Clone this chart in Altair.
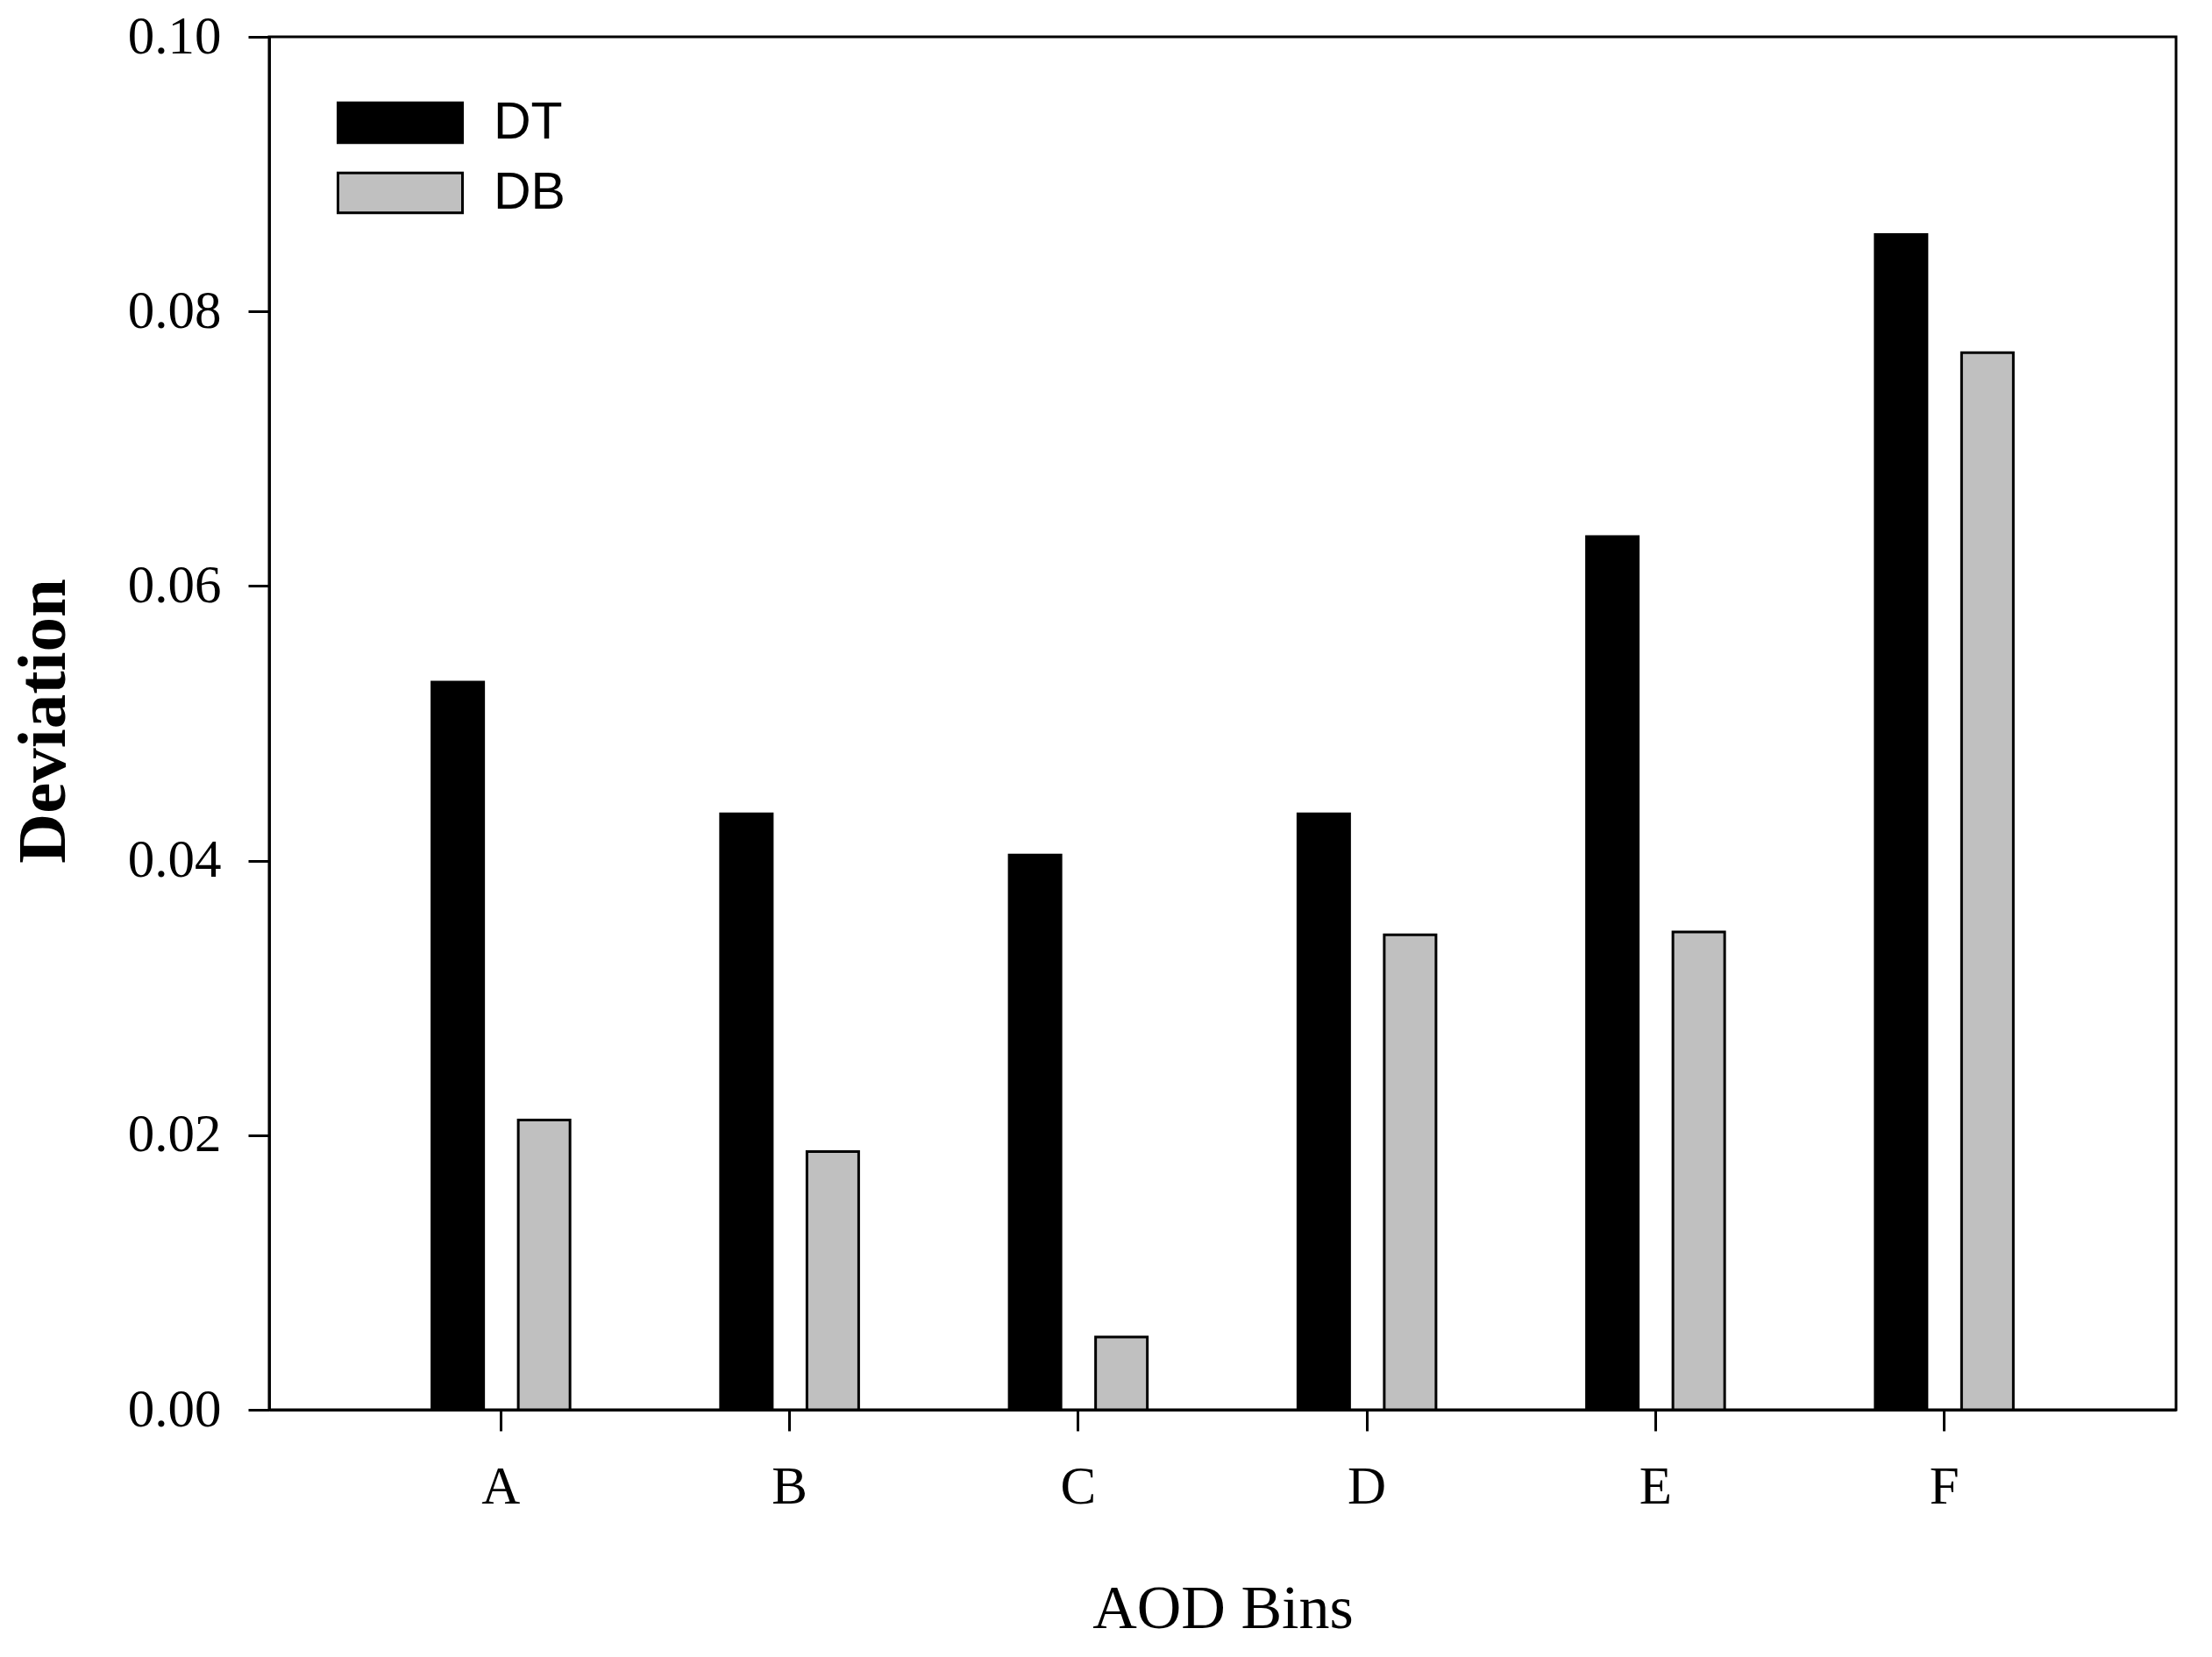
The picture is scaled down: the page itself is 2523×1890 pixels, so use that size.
import altair as alt
import pandas as pd

bins = ["A", "B", "C", "D", "E", "F"]
dt_values = [0.0530, 0.0434, 0.0404, 0.0434, 0.0636, 0.0856]
db_values = [0.0211, 0.0188, 0.0053, 0.0346, 0.0348, 0.0770]
series = ["DT", "DB"]
y_ticks = [0.00, 0.02, 0.04, 0.06, 0.08, 0.10]

rows = []
for b, v in zip(bins, dt_values):
    rows.append({"bin": b, "series": "DT", "value": v})
for b, v in zip(bins, db_values):
    rows.append({"bin": b, "series": "DB", "value": v})
df = pd.DataFrame(rows)

W, H = 2175, 1566

chart = alt.Chart(df).mark_bar(stroke="black", strokeWidth=3).encode(
    x=alt.X("bin:N", sort=bins,
            scale=alt.Scale(paddingInner=0, paddingOuter=0.303),
            axis=alt.Axis(title="AOD Bins", labelAngle=0,
                          labelFont="Liberation Serif", labelFontSize=61,
                          labelColor="black", labelPadding=34,
                          tickSize=24, tickWidth=3, tickColor="black",
                          domainColor="black", domainWidth=3,
                          titleFont="Liberation Serif", titleFontSize=70,
                          titleFontWeight="normal", titleColor="black",
                          titleY=227, titleBaseline="middle")),
    xOffset=alt.XOffset("series:N", sort=series,
                        scale=alt.Scale(paddingInner=0.401, paddingOuter=0.8715)),
    y=alt.Y("value:Q", scale=alt.Scale(domain=[0, 0.1], nice=False),
            axis=alt.Axis(title="Deviation", values=y_ticks, format=".2f",
                          labelFont="Liberation Serif", labelFontSize=61,
                          labelColor="black", labelPadding=31,
                          tickSize=24, tickWidth=3, tickColor="black",
                          domainColor="black", domainWidth=3, grid=False,
                          titleFont="Liberation Serif", titleFontSize=79,
                          titleFontWeight="bold", titleColor="black",
                          titleX=-258, titleY=780, titleAngle=-90,
                          titleBaseline="middle", titleAlign="center")),
    color=alt.Color("series:N", sort=series,
                    scale=alt.Scale(domain=series, range=["#000000", "#c0c0c0"]),
                    legend=alt.Legend(title=None, orient="none",
                                      legendX=77, legendY=70,
                                      symbolType="M-1,-0.32H1V0.32H-1Z",
                                      symbolSize=20164,
                                      symbolStrokeColor="black",
                                      symbolStrokeWidth=3,
                                      labelFont="Liberation Sans",
                                      labelFontSize=59, labelColor="black",
                                      labelOffset=34, clipHeight=56,
                                      rowPadding=21, padding=0)),
).properties(
    width=W, height=H,
    autosize=alt.AutoSizeParams(type="none"),
    padding={"left": 299, "top": 34, "right": 30, "bottom": 270},
    background="white",
).configure_view(stroke="black", strokeWidth=3)

chart.save("out.html", embed_options={"renderer": "svg", "actions": False})
